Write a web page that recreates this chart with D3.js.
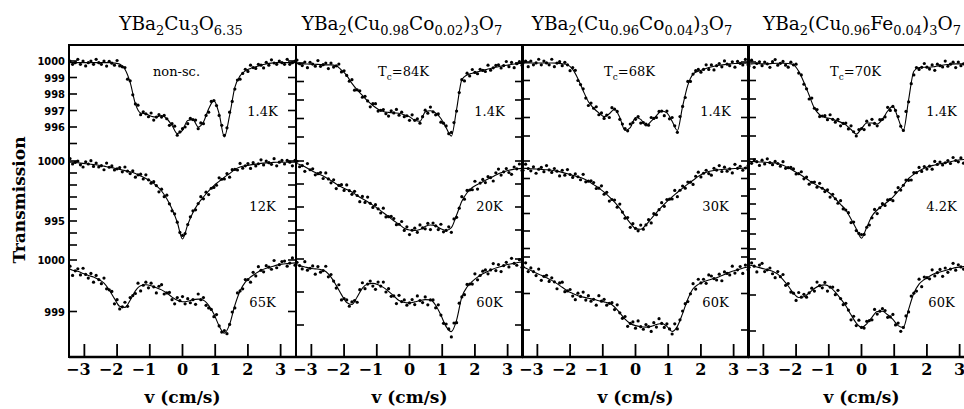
<!DOCTYPE html>
<html>
<head>
<meta charset="utf-8">
<script src="https://cdn.jsdelivr.net/npm/d3@7"></script>
<style>
  body { margin: 0; background: #fff; }
  text { fill: #000; }
</style>
</head>
<body>
<svg id="chart" width="964" height="409"></svg>
<script>
/* velocity channels of the measured points and of the fitted curves (cm/s) */
const velocityChannels = [
  -3.44, -3.36, -3.28, -3.2, -3.12, -3.04, -2.96, -2.88, -2.8, -2.72,
  -2.64, -2.56, -2.48, -2.4, -2.32, -2.24, -2.16, -2.08, -2, -1.92,
  -1.84, -1.76, -1.68, -1.6, -1.52, -1.44, -1.36, -1.28, -1.2, -1.12,
  -1.04, -0.96, -0.88, -0.8, -0.72, -0.64, -0.56, -0.48, -0.4, -0.32,
  -0.24, -0.16, -0.08, 0, 0.08, 0.16, 0.24, 0.32, 0.4, 0.48,
  0.56, 0.64, 0.72, 0.8, 0.88, 0.96, 1.04, 1.12, 1.2, 1.28,
  1.36, 1.44, 1.52, 1.6, 1.68, 1.76, 1.84, 1.92, 2, 2.08,
  2.16, 2.24, 2.32, 2.4, 2.48, 2.56, 2.64, 2.72, 2.8, 2.88,
  2.96, 3.04, 3.12, 3.2, 3.28, 3.36, 3.44];
const fitVelocities = [
  -3.52, -3.36, -3.2, -3.04, -2.88, -2.72, -2.56, -2.4, -2.24, -2.08,
  -1.92, -1.76, -1.6, -1.44, -1.28, -1.12, -0.96, -0.8, -0.64, -0.48,
  -0.32, -0.16, 0, 0.16, 0.32, 0.48, 0.64, 0.8, 0.96, 1.12,
  1.28, 1.44, 1.6, 1.76, 1.92, 2.08, 2.24, 2.4, 2.56, 2.72,
  2.88, 3.04, 3.2, 3.36, 3.52];

const xTicks = [-3, -2, -1, 0, 1, 2, 3];
const yTickLabels = [[1000, 999, 998, 997, 996], [1000, 995], [1000, 999]];

/* panel titles: [text, isSubscript] */
const titleParts = [
  [['YBa'], ['2', 1], ['Cu'], ['3', 1], ['O'], ['6.35', 1]],
  [['YBa'], ['2', 1], ['(Cu'], ['0.98', 1], ['Co'], ['0.02', 1], [')'], ['3', 1], ['O'], ['7', 1]],
  [['YBa'], ['2', 1], ['(Cu'], ['0.96', 1], ['Co'], ['0.04', 1], [')'], ['3', 1], ['O'], ['7', 1]],
  [['YBa'], ['2', 1], ['(Cu'], ['0.96', 1], ['Fe'], ['0.04', 1], [')'], ['3', 1], ['O'], ['7', 1]],
];
const tcLabels = [null, '84K', '68K', '70K'];
const temperatures = [['1.4K', '12K', '65K'], ['1.4K', '20K', '60K'], ['1.4K', '30K', '60K'], ['1.4K', '4.2K', '60K']];

/* YBa2Cu3O6.35 */
const o635_1p4K_pts = [
  1000.0, 999.8, 999.9, 1000.1, 999.8, 1000.0, 999.7, 999.9, 1000.0, 999.8,
  1000.1, 999.9, 999.8, 1000.0, 999.69, 999.98, 999.87, 999.75, 1000.03, 999.7,
  999.65, 999.6, 998.9, 998.8, 997.95, 997.4, 997.32, 996.75, 996.92, 996.8,
  996.62, 996.85, 996.42, 996.6, 996.75, 996.6, 996.7, 996.5, 996.1, 996.2,
  996.05, 995.5, 995.7, 995.9, 996.0, 996.2, 996.52, 996.45, 996.42, 995.9,
  996.25, 996.2, 996.7, 996.9, 997.55, 997.6, 997.3, 996.7, 996.1, 995.5,
  995.95, 996.9, 997.55, 998.3, 998.85, 998.9, 999.25, 999.5, 999.37, 999.75,
  999.6, 999.55, 999.8, 999.75, 999.58, 999.92, 999.75, 1000.07, 999.88, 999.8,
  1000.0, 999.9, 999.8, 1000.1, 999.8, 999.9, 1000.0];
const o635_1p4K_fit = [
  999.9, 999.9, 999.9, 999.9, 999.9, 999.9, 999.9, 999.9, 999.9, 999.88,
  999.82, 999.5, 998.7, 997.4, 996.85, 996.8, 996.65, 996.6, 996.7, 996.5,
  996.1, 995.6, 995.8, 996.4, 996.45, 996.0, 996.3, 997.1, 997.6, 996.8,
  995.4, 996.7, 998.4, 999.1, 999.4, 999.55, 999.65, 999.75, 999.82, 999.87,
  999.9, 999.9, 999.9, 999.9, 999.9];
const o635_12K_pts = [
  1000.2, 999.75, 999.88, 1000.0, 999.68, 999.5, 999.93, 999.75, 1000.03, 999.55,
  999.83, 999.5, 999.61, 999.27, 999.83, 999.48, 999.59, 999.25, 999.35, 999.45,
  999.1, 999.5, 999.15, 998.95, 999.18, 998.65, 998.85, 998.9, 998.5, 998.85,
  998.43, 998.15, 998.28, 997.95, 997.43, 997.65, 997.03, 997.15, 996.43, 995.85,
  995.6, 994.9, 994.05, 993.8, 993.95, 994.7, 995.35, 995.85, 995.93, 996.45,
  997.03, 996.85, 997.4, 997.2, 997.73, 997.8, 997.98, 998.6, 998.48, 998.5,
  998.95, 998.65, 999.28, 999.3, 999.25, 999.8, 999.4, 999.6, 999.79, 999.38,
  999.86, 999.59, 999.77, 1000.1, 999.67, 999.99, 999.86, 999.72, 1000.19, 999.6,
  999.9, 1000.05, 999.75, 1000.05, 999.9, 999.6, 1000.05];
const o635_12K_fit = [
  999.9, 999.9, 999.85, 999.8, 999.75, 999.7, 999.65, 999.57, 999.48, 999.4,
  999.3, 999.2, 999.1, 998.95, 998.75, 998.55, 998.3, 997.95, 997.5, 996.85,
  996.0, 994.9, 993.5, 994.7, 995.7, 996.45, 997.0, 997.5, 997.95, 998.3,
  998.65, 998.95, 999.3, 999.5, 999.6, 999.68, 999.74, 999.8, 999.84, 999.87,
  999.9, 999.9, 999.9, 999.9, 999.9];
const o635_65K_pts = [
  999.88, 999.7, 999.79, 999.83, 999.71, 999.84, 999.72, 999.65, 999.74, 999.57,
  999.7, 999.62, 999.54, 999.65, 999.44, 999.42, 999.39, 999.15, 999.23, 999.05,
  999.09, 999.18, 999.1, 999.27, 999.31, 999.35, 999.55, 999.4, 999.51, 999.57,
  999.46, 999.55, 999.48, 999.36, 999.49, 999.52, 999.34, 999.36, 999.37, 999.23,
  999.15, 999.27, 999.21, 999.29, 999.15, 999.25, 999.17, 999.23, 999.14, 999.34,
  999.23, 999.27, 999.12, 999.07, 999.04, 998.9, 998.94, 998.72, 998.6, 998.63,
  998.57, 998.75, 998.99, 999.07, 999.36, 999.4, 999.44, 999.62, 999.62, 999.57,
  999.76, 999.69, 999.87, 999.8, 999.77, 999.89, 999.86, 999.82, 999.99, 999.85,
  999.91, 999.97, 999.98, 999.88, 999.94, 1000.04, 999.9];
const o635_65K_fit = [
  999.85, 999.8, 999.78, 999.74, 999.7, 999.67, 999.62, 999.55, 999.42, 999.25,
  999.1, 999.08, 999.22, 999.4, 999.5, 999.52, 999.5, 999.46, 999.42, 999.36,
  999.28, 999.22, 999.19, 999.2, 999.23, 999.24, 999.22, 999.12, 998.95, 998.72,
  998.58, 998.75, 999.12, 999.4, 999.57, 999.67, 999.74, 999.8, 999.84, 999.87,
  999.9, 999.92, 999.93, 999.94, 999.95];

/* YBa2(Cu0.98Co0.02)3O7 */
const co2_1p4K_pts = [
  1000.16, 999.96, 999.86, 1000.05, 999.75, 1000.04, 999.94, 999.83, 1000.13, 999.82,
  999.91, 1000.0, 999.7, 1000.0, 999.78, 999.85, 999.94, 999.52, 999.58, 999.33,
  999.02, 999.1, 998.53, 998.55, 998.5, 998.15, 998.2, 997.95, 997.63, 997.8,
  997.8, 997.4, 997.44, 997.48, 997.26, 997.13, 997.42, 997.3, 997.49, 997.18,
  997.34, 997.1, 997.15, 996.9, 997.2, 996.9, 996.98, 996.75, 997.1, 997.45,
  997.29, 997.62, 997.36, 997.2, 997.25, 996.8, 996.75, 996.6, 996.18, 996.25,
  996.78, 997.4, 998.4, 999.1, 999.03, 999.45, 999.3, 999.65, 999.49, 999.42,
  999.66, 999.6, 999.54, 999.88, 999.61, 999.74, 999.87, 999.9, 999.73, 999.86,
  1000.08, 999.8, 1000.03, 999.75, 999.96, 1000.07, 999.88];
const co2_1p4K_fit = [
  999.97, 999.96, 999.95, 999.94, 999.93, 999.92, 999.9, 999.9, 999.85, 999.62,
  999.33, 998.9, 998.55, 998.25, 997.95, 997.7, 997.5, 997.38, 997.33, 997.3,
  997.28, 997.2, 997.1, 996.9, 996.85, 997.35, 997.42, 997.3, 997.0, 996.5,
  996.05, 997.5, 999.1, 999.35, 999.45, 999.52, 999.6, 999.68, 999.74, 999.8,
  999.86, 999.9, 999.95, 999.97, 999.98];
const co2_20K_pts = [
  999.99, 999.75, 999.8, 999.55, 999.89, 999.62, 999.66, 999.4, 999.45, 999.5,
  999.24, 999.48, 999.22, 999.05, 999.18, 998.8, 998.94, 998.97, 998.72, 998.96,
  998.71, 998.55, 998.68, 998.5, 998.23, 998.46, 998.2, 998.43, 998.16, 997.98,
  998.1, 997.92, 997.74, 997.95, 997.57, 997.58, 997.59, 997.5, 997.23, 997.25,
  997.37, 996.98, 997.14, 996.8, 996.99, 997.08, 996.9, 997.22, 997.09, 997.05,
  997.29, 997.02, 997.3, 997.18, 997.02, 997.25, 996.92, 996.98, 997.14, 996.9,
  997.48, 997.55, 997.95, 998.45, 998.34, 998.72, 998.74, 998.75, 999.12, 998.78,
  999.04, 999.2, 999.06, 999.32, 999.28, 999.13, 999.49, 999.65, 999.39, 999.53,
  999.67, 999.5, 999.42, 999.74, 999.66, 999.87, 999.59];
const co2_20K_fit = [
  999.92, 999.85, 999.75, 999.62, 999.5, 999.4, 999.28, 999.15, 999.0, 998.87,
  998.76, 998.65, 998.5, 998.36, 998.23, 998.08, 997.92, 997.75, 997.58, 997.4,
  997.25, 997.08, 997.0, 996.98, 997.02, 997.15, 997.22, 997.18, 997.05, 996.98,
  997.1, 997.65, 998.25, 998.62, 998.85, 998.98, 999.1, 999.22, 999.33, 999.45,
  999.53, 999.6, 999.64, 999.67, 999.7];
const co2_60K_pts = [
  999.9, 999.8, 999.7, 999.92, 999.66, 999.72, 999.79, 999.54, 999.77, 999.6,
  999.65, 999.78, 999.46, 999.53, 999.33, 999.12, 999.22, 998.76, 998.8, 998.76,
  998.57, 998.7, 998.74, 998.69, 999.07, 999.28, 999.1, 999.24, 999.33, 999.18,
  999.08, 999.3, 999.18, 999.3, 999.0, 999.1, 998.87, 998.88, 998.65, 998.9,
  998.71, 998.76, 998.6, 998.67, 998.77, 998.62, 998.88, 998.74, 998.68, 998.85,
  998.61, 998.76, 998.76, 998.52, 998.61, 998.3, 998.05, 998.03, 997.88, 997.64,
  998.06, 998.07, 998.66, 998.85, 998.92, 999.23, 999.24, 999.24, 999.55, 999.37,
  999.5, 999.63, 999.67, 999.55, 999.67, 999.86, 999.65, 999.83, 999.62, 999.8,
  999.9, 999.76, 1000.02, 999.87, 999.81, 999.98, 999.75];
const co2_60K_fit = [
  999.85, 999.8, 999.76, 999.72, 999.7, 999.68, 999.62, 999.45, 999.2, 998.92,
  998.68, 998.62, 998.85, 999.12, 999.24, 999.26, 999.22, 999.14, 999.02, 998.88,
  998.74, 998.68, 998.67, 998.7, 998.74, 998.77, 998.76, 998.6, 998.3, 997.95,
  997.8, 998.15, 998.85, 999.15, 999.32, 999.45, 999.55, 999.63, 999.7, 999.75,
  999.8, 999.84, 999.87, 999.9, 999.92];

/* YBa2(Cu0.96Co0.04)3O7 */
const co4_1p4K_pts = [
  999.95, 1000.05, 999.75, 1000.05, 999.85, 999.95, 1000.15, 999.85, 1000.05, 999.95,
  999.85, 1000.15, 999.75, 999.94, 1000.02, 999.8, 999.98, 999.85, 999.53, 999.7,
  999.55, 999.0, 998.78, 998.55, 998.05, 997.65, 997.78, 997.5, 997.58, 997.15,
  997.25, 996.95, 997.13, 997.0, 997.53, 997.45, 997.33, 996.9, 996.65, 996.4,
  996.28, 996.65, 996.73, 996.9, 997.05, 996.7, 996.73, 996.65, 996.58, 997.0,
  996.95, 997.0, 997.33, 997.35, 997.1, 997.35, 996.93, 997.0, 996.55, 996.2,
  997.05, 997.6, 998.08, 998.95, 998.95, 999.35, 999.53, 999.6, 999.45, 999.6,
  999.85, 999.6, 999.84, 999.57, 999.8, 999.92, 999.74, 1000.06, 999.88, 999.8,
  1000.01, 999.72, 1000.03, 999.93, 999.84, 1000.14, 999.85];
const co4_1p4K_fit = [
  999.95, 999.95, 999.95, 999.95, 999.95, 999.95, 999.95, 999.94, 999.9, 999.85,
  999.6, 999.1, 998.45, 997.85, 997.5, 997.25, 997.05, 997.2, 997.45, 997.0,
  996.3, 996.45, 997.0, 996.9, 996.55, 996.8, 997.1, 997.35, 997.25, 996.8,
  996.3, 997.6, 998.75, 999.35, 999.5, 999.6, 999.7, 999.77, 999.82, 999.86,
  999.9, 999.92, 999.93, 999.94, 999.95];
const co4_30K_pts = [
  999.47, 999.82, 999.57, 999.44, 999.67, 999.3, 999.53, 999.64, 999.39, 999.74,
  999.49, 999.35, 999.57, 999.42, 999.15, 999.47, 999.19, 999.51, 999.23, 999.06,
  999.26, 999.1, 998.93, 999.24, 998.81, 998.85, 998.87, 998.77, 998.43, 998.45,
  998.58, 998.1, 998.21, 997.71, 997.8, 997.77, 997.36, 997.54, 997.08, 996.73,
  996.77, 996.21, 996.42, 996.15, 996.01, 996.34, 996.1, 996.35, 996.65, 996.46,
  996.99, 996.93, 997.22, 997.62, 997.41, 997.8, 997.82, 997.83, 998.32, 997.96,
  998.33, 998.57, 998.45, 998.8, 998.79, 998.66, 999.13, 999.36, 999.09, 999.3,
  999.47, 999.28, 999.19, 999.58, 999.48, 999.74, 999.4, 999.65, 999.42, 999.55,
  999.32, 999.81, 999.58, 999.7, 999.47, 999.6, 999.72];
const co4_30K_fit = [
  999.6, 999.58, 999.56, 999.54, 999.52, 999.5, 999.47, 999.42, 999.35, 999.27,
  999.18, 999.1, 999.0, 998.85, 998.65, 998.45, 998.22, 997.95, 997.65, 997.3,
  996.85, 996.45, 996.15, 996.1, 996.35, 996.7, 997.05, 997.38, 997.68, 997.95,
  998.2, 998.45, 998.68, 998.9, 999.12, 999.3, 999.4, 999.46, 999.5, 999.53,
  999.55, 999.57, 999.58, 999.6, 999.6];
const co4_60K_pts = [
  999.73, 999.84, 999.6, 999.7, 999.6, 999.49, 999.67, 999.36, 999.47, 999.5,
  999.33, 999.43, 999.32, 999.13, 999.29, 999.31, 999.05, 999.07, 999.11, 998.93,
  998.83, 999.01, 998.92, 999.04, 998.82, 998.94, 998.79, 998.84, 998.68, 998.94,
  998.79, 998.84, 998.68, 998.73, 998.75, 998.56, 998.69, 998.47, 998.32, 998.37,
  998.1, 998.18, 998.22, 998.05, 998.25, 998.09, 998.02, 998.15, 998.09, 997.96,
  998.2, 998.08, 998.31, 998.18, 998.07, 998.17, 998.03, 997.89, 998.17, 998.03,
  998.28, 998.52, 998.72, 998.78, 998.99, 999.27, 999.12, 999.39, 999.29, 999.39,
  999.28, 999.51, 999.48, 999.41, 999.37, 999.53, 999.35, 999.59, 999.55, 999.51,
  999.75, 999.56, 999.65, 999.74, 999.55, 999.78, 999.65];
const co4_60K_fit = [
  999.75, 999.7, 999.63, 999.56, 999.5, 999.43, 999.36, 999.27, 999.17, 999.07,
  999.0, 998.94, 998.9, 998.87, 998.84, 998.8, 998.77, 998.73, 998.63, 998.47,
  998.3, 998.18, 998.12, 998.09, 998.08, 998.1, 998.15, 998.18, 998.1, 997.96,
  998.1, 998.45, 998.85, 999.13, 999.25, 999.32, 999.37, 999.41, 999.46, 999.52,
  999.58, 999.63, 999.67, 999.71, 999.73];

/* YBa2(Cu0.96Fe0.04)3O7 */
const fe4_1p4K_pts = [
  999.79, 1000.1, 999.71, 999.92, 1000.01, 999.8, 1000.0, 999.9, 999.71, 1000.02,
  1000.13, 999.83, 999.93, 1000.03, 999.83, 999.72, 999.99, 999.85, 999.88, 999.4,
  999.3, 998.8, 998.55, 998.0, 998.05, 997.5, 997.43, 997.05, 997.08, 997.1,
  996.88, 997.15, 996.9, 996.75, 996.9, 996.55, 996.68, 996.7, 996.38, 996.55,
  996.23, 996.0, 996.35, 996.4, 996.35, 996.8, 996.6, 996.9, 996.68, 996.55,
  996.88, 996.9, 997.03, 997.55, 997.38, 997.6, 997.38, 997.05, 996.53, 996.3,
  997.33, 997.85, 998.83, 999.3, 999.7, 999.6, 999.71, 999.92, 999.72, 999.62,
  999.84, 999.55, 999.88, 999.8, 999.73, 1000.05, 999.77, 999.88, 999.99, 999.7,
  1000.0, 999.8, 999.9, 1000.1, 999.8, 1000.0, 999.9];
const fe4_1p4K_fit = [
  999.88, 999.9, 999.92, 999.9, 999.9, 999.92, 999.93, 999.93, 999.92, 999.85,
  999.5, 998.9, 998.2, 997.5, 997.15, 997.0, 996.95, 996.85, 996.75, 996.6,
  996.35, 996.1, 996.4, 996.7, 996.7, 996.65, 996.9, 997.35, 997.6, 996.95,
  996.3, 997.95, 999.5, 999.7, 999.72, 999.72, 999.75, 999.8, 999.85, 999.88,
  999.9, 999.9, 999.9, 999.9, 999.9];
const fe4_4p2K_pts = [
  999.84, 999.71, 999.95, 999.82, 999.57, 999.92, 999.67, 1000.01, 999.76, 999.62,
  999.84, 999.7, 999.52, 999.82, 999.38, 999.42, 999.44, 999.34, 999.0, 999.02,
  999.15, 998.68, 998.8, 998.32, 998.45, 998.46, 998.12, 998.38, 998.05, 997.83,
  997.95, 997.46, 997.65, 997.35, 997.05, 997.22, 996.67, 996.6, 996.42, 995.76,
  995.8, 995.23, 995.04, 994.96, 994.97, 995.45, 995.6, 996.08, 996.64, 996.36,
  996.75, 997.02, 996.9, 997.27, 997.31, 997.22, 997.78, 998.09, 997.93, 998.25,
  998.6, 998.58, 998.6, 999.1, 999.09, 999.44, 999.17, 999.5, 999.33, 999.52,
  999.32, 999.84, 999.64, 999.8, 999.6, 999.75, 999.9, 999.7, 1000.1, 999.9,
  999.81, 1000.07, 999.72, 999.97, 1000.1, 999.86, 1000.23];
const fe4_4p2K_fit = [
  999.85, 999.83, 999.82, 999.8, 999.77, 999.74, 999.7, 999.58, 999.42, 999.22,
  999.02, 998.8, 998.56, 998.34, 998.14, 997.95, 997.7, 997.35, 996.98, 996.6,
  996.0, 995.35, 994.72, 995.45, 996.2, 996.6, 996.9, 997.15, 997.46, 997.85,
  998.25, 998.7, 998.98, 999.2, 999.38, 999.52, 999.6, 999.68, 999.75, 999.82,
  999.9, 999.95, 999.97, 999.98, 1000.0];
const fe4_60K_pts = [
  999.77, 999.89, 999.8, 999.64, 999.83, 999.88, 999.65, 999.7, 999.75, 999.59,
  999.48, 999.65, 999.51, 999.57, 999.27, 999.32, 999.08, 999.05, 998.85, 999.07,
  998.94, 999.02, 998.94, 999.06, 999.19, 999.11, 999.36, 999.26, 999.2, 999.35,
  999.11, 999.22, 999.22, 999.01, 999.13, 998.9, 998.73, 998.77, 998.58, 998.31,
  998.41, 998.15, 998.3, 998.1, 998.08, 998.27, 998.29, 998.31, 998.6, 998.47,
  998.55, 998.62, 998.57, 998.38, 998.39, 998.46, 998.17, 998.22, 997.99, 998.1,
  998.42, 998.53, 998.97, 999.05, 999.11, 999.44, 999.23, 999.5, 999.48, 999.45,
  999.7, 999.53, 999.62, 999.71, 999.52, 999.75, 999.63, 999.72, 999.88, 999.69,
  999.84, 999.78, 999.72, 999.94, 999.67, 999.82, 999.9];
const fe4_60K_fit = [
  999.85, 999.82, 999.78, 999.74, 999.7, 999.66, 999.58, 999.43, 999.25, 999.05,
  998.93, 998.95, 999.06, 999.18, 999.26, 999.28, 999.22, 999.08, 998.9, 998.7,
  998.45, 998.22, 998.1, 998.2, 998.38, 998.54, 998.55, 998.45, 998.32, 998.15,
  998.1, 998.6, 999.05, 999.3, 999.43, 999.52, 999.6, 999.64, 999.68, 999.72,
  999.76, 999.78, 999.8, 999.82, 999.83];

const spectra = [
  [[o635_1p4K_pts, o635_1p4K_fit], [o635_12K_pts, o635_12K_fit], [o635_65K_pts, o635_65K_fit]],
  [[co2_1p4K_pts, co2_1p4K_fit], [co2_20K_pts, co2_20K_fit], [co2_60K_pts, co2_60K_fit]],
  [[co4_1p4K_pts, co4_1p4K_fit], [co4_30K_pts, co4_30K_fit], [co4_60K_pts, co4_60K_fit]],
  [[fe4_1p4K_pts, fe4_1p4K_fit], [fe4_4p2K_pts, fe4_4p2K_fit], [fe4_60K_pts, fe4_60K_fit]],
];

/* layout */
const panelLeft = [69, 296, 522, 748];
const panelW = 227;
const plotTop = 45;
const plotBottom = 357;
// pixel of the 1000 level and pixels per unit for each panel / row
const rowScale = [
  [[61, 16.5], [161, 12], [260, 51.5]],
  [[63, 18.5], [161, 23], [259, 33]],
  [[62, 18.5], [161, 17.5], [257, 36.5]],
  [[62, 18.5], [159, 15], [259, 36]],
];
const rowBands = [[45, 150], [150, 250], [250, 350]];
const titleX = [181, 402, 632, 862];
const tempBaseline = [116, 211, 307];

const serif = "'DejaVu Serif', 'Liberation Serif', serif";
const svg = d3.select('#chart');

// y axis title
svg.append('text')
  .attr('transform', 'translate(25,200) rotate(-90)')
  .attr('text-anchor', 'middle')
  .style('font-family', serif)
  .style('font-weight', 'bold')
  .style('font-size', '17px')
  .text('Transmission');

spectra.forEach((panel, p) => {
  const left = panelLeft[p];
  const cx = left + panelW / 2;
  const x = d3.scaleLinear().domain([-3.47, 3.47]).range([left, left + panelW]);
  const g = svg.append('g');

  const clipId = `clip${p}`;
  svg.append('clipPath').attr('id', clipId)
    .append('rect').attr('x', left).attr('y', plotTop)
    .attr('width', panelW).attr('height', plotBottom - plotTop);

  /* title with subscripts */
  const title = g.append('text')
    .attr('x', titleX[p]).attr('y', 30)
    .attr('text-anchor', 'middle')
    .style('font-family', serif)
    .style('font-size', '18.5px');
  let inSub = false;
  titleParts[p].forEach(([txt, sub]) => {
    const ts = title.append('tspan').text(txt);
    if (sub && !inSub) ts.attr('dy', 5);
    if (!sub && inSub) ts.attr('dy', -5);
    if (sub) ts.style('font-size', '13px');
    inSub = !!sub;
  });

  /* sample labels */
  const tc = g.append('text')
    .attr('x', cx - 6).attr('y', 76)
    .attr('text-anchor', 'middle')
    .style('font-family', serif)
    .style('font-size', '13px');
  if (tcLabels[p] === null) {
    tc.text('non-sc.');
  } else {
    tc.append('tspan').text('T');
    tc.append('tspan').attr('dy', 4).style('font-size', '9px').text('c');
    tc.append('tspan').attr('dy', -4).text(`=${tcLabels[p]}`);
  }

  panel.forEach(([pts, fit], r) => {
    const [y1000, ppu] = rowScale[p][r];
    const y = d3.scaleLinear().domain([1000, 999]).range([y1000, y1000 + ppu]);

    const layer = g.append('g').attr('clip-path', `url(#${clipId})`);
    layer.append('path')
      .datum(fit)
      .attr('fill', 'none')
      .attr('stroke', '#000')
      .attr('stroke-width', 1.1)
      .attr('d', d3.line()
        .x((d, i) => x(fitVelocities[i]))
        .y((d) => y(d))
        .curve(d3.curveMonotoneX));
    layer.selectAll('circle')
      .data(pts)
      .join('circle')
      .attr('cx', (d, i) => x(velocityChannels[i]))
      .attr('cy', (d) => y(d))
      .attr('r', 1.6)
      .attr('fill', '#000');

    /* inner ticks on both sides of the panel */
    const [b0, b1] = rowBands[r];
    const vTop = Math.floor(y.invert(b0));
    const vals = d3.range(vTop, Math.floor(y.invert(b1)) - 1, -1)
      .filter((v) => y(v) >= b0 && y(v) <= b1);
    vals.forEach((v) => {
      g.append('line').attr('x1', left).attr('x2', left + 8)
        .attr('y1', y(v)).attr('y2', y(v)).attr('stroke', '#000').attr('stroke-width', 1.6);
      g.append('line').attr('x1', left + panelW - 8).attr('x2', left + panelW)
        .attr('y1', y(v)).attr('y2', y(v)).attr('stroke', '#000').attr('stroke-width', 1.6);
    });

    if (p === 0) {
      yTickLabels[r].forEach((v) => {
        g.append('text')
          .attr('x', 65).attr('y', y(v) + 4)
          .attr('text-anchor', 'end')
          .style('font-family', "'DejaVu Sans Condensed', 'DejaVu Sans', sans-serif")
          .style('font-stretch', 'condensed')
          .style('font-weight', 'bold')
          .style('font-size', '11px')
          .text(v);
      });
    }

    g.append('text')
      .attr('x', cx + 80).attr('y', tempBaseline[r])
      .attr('text-anchor', 'middle')
      .style('font-family', serif)
      .style('font-size', '13px')
      .text(temperatures[p][r]);
  });

  /* frame */
  g.append('rect')
    .attr('x', left).attr('y', plotTop)
    .attr('width', panelW).attr('height', plotBottom - plotTop)
    .attr('fill', 'none').attr('stroke', '#000').attr('stroke-width', 2);
  g.append('line')
    .attr('x1', left).attr('x2', left + panelW)
    .attr('y1', plotBottom).attr('y2', plotBottom)
    .attr('stroke', '#000').attr('stroke-width', 2.6);

  /* velocity axis */
  xTicks.forEach((v) => {
    g.append('line')
      .attr('x1', x(v)).attr('x2', x(v))
      .attr('y1', plotBottom).attr('y2', plotBottom - 13)
      .attr('stroke', '#000').attr('stroke-width', 1.8);
    g.append('text')
      .attr('x', v < 0 ? x(v) - 6 : x(v)).attr('y', 375)
      .attr('text-anchor', 'middle')
      .style('font-family', serif)
      .style('font-weight', 'bold')
      .style('font-size', '16px')
      .text(v < 0 ? `\u2212${-v}` : v);
  });
  g.append('text')
    .attr('x', cx).attr('y', 403)
    .attr('text-anchor', 'middle')
    .style('font-family', serif)
    .style('font-weight', 'bold')
    .style('font-size', '17px')
    .text('v (cm/s)');
});
</script>
</body>
</html>
